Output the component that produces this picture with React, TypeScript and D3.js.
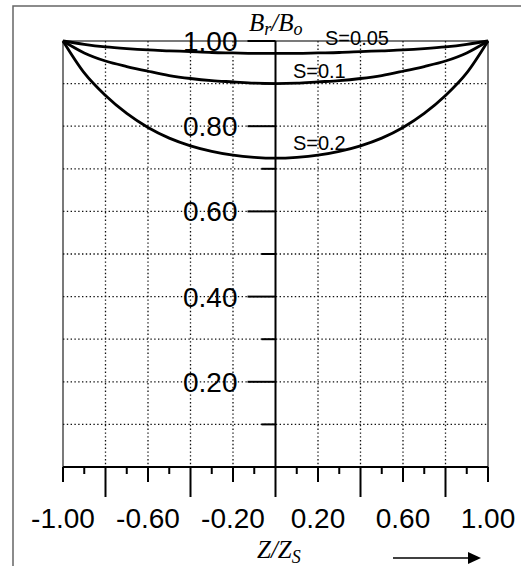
import * as d3 from 'd3';

// Z/Zs positions along the axis
const zValues = [-1, -0.9, -0.8, -0.7, -0.6, -0.5, -0.4, -0.3, -0.2, -0.1, 0, 0.1, 0.2, 0.3, 0.4, 0.5, 0.6, 0.7, 0.8, 0.9, 1];

// Br/Bo for each S
const s005 = [1.0, 0.992, 0.986, 0.982, 0.979, 0.977, 0.975, 0.973, 0.972, 0.971, 0.971, 0.971, 0.972, 0.973, 0.975, 0.977, 0.979, 0.982, 0.986, 0.992, 1.0];
const s01 = [1.0, 0.972, 0.953, 0.94, 0.929, 0.919, 0.912, 0.907, 0.904, 0.901, 0.9, 0.901, 0.904, 0.907, 0.912, 0.919, 0.929, 0.94, 0.953, 0.972, 1.0];
const s02 = [1.0, 0.925, 0.872, 0.83, 0.797, 0.772, 0.754, 0.741, 0.732, 0.727, 0.725, 0.727, 0.732, 0.741, 0.754, 0.772, 0.797, 0.83, 0.872, 0.925, 1.0];

const seriesNames = ['S=0.05', 'S=0.1', 'S=0.2'];
const xTickLabels = ['-1.00', '-0.60', '-0.20', '0.20', '0.60', '1.00'];
const yTickLabels = ['0.20', '0.40', '0.60', '0.80', '1.00'];

const W = 521;
const H = 566;

export default function App() {
  const x = d3.scaleLinear().domain([-1, 1]).range([63, 488]);
  const y = d3.scaleLinear().domain([0, 1]).range([467, 41]);

  const tenths = d3.range(-10, 11).map((i) => i / 10);
  const yTenths = d3.range(1, 11).map((i) => i / 10);

  const line = d3.line<number>()
    .x((_, i) => x(zValues[i]))
    .y((d) => y(d))
    .curve(d3.curveMonotoneX);

  const series = [s005, s01, s02];
  // label anchor: [z, value] of the left edge / baseline
  const labelPos = [[0.233, 0.991], [0.082, 0.913], [0.082, 0.744]];

  const tickLen = (i: number) => {
    const k = Math.round(i * 10);
    if (k % 2 !== 0) return 7;
    if ((k + 10) % 4 === 0) return 15;
    return 30;
  };

  return (
    <svg width={W} height={H} style={{ position: 'absolute', left: 0, top: 0, background: '#fff' }}
      fontFamily="'Liberation Sans', Arial, sans-serif">
      {/* outer frame */}
      <rect x={13} y={6} width={W + 20} height={H + 20} fill="none" stroke="#666" strokeWidth={1.5} />

      {/* dotted grid */}
      <g stroke="#111" strokeWidth={1.3} strokeDasharray="1.4 2.4">
        {tenths.filter((t) => Math.abs(t) > 0.01 && Math.abs(t) < 0.99 && Math.round(t * 10) % 2 === 0).map((t) => (
          <line key={'gx' + t} x1={x(t)} x2={x(t)} y1={y(1)} y2={y(0)} />
        ))}
        {yTenths.filter((t) => t < 0.99).map((t) => (
          <line key={'gy' + t} x1={x(-1)} x2={x(1)} y1={y(t)} y2={y(t)} />
        ))}
      </g>

      {/* plot border */}
      <rect x={x(-1)} y={y(1)} width={x(1) - x(-1)} height={y(0) - y(1)} fill="none" stroke="#222" strokeWidth={1.2} />

      {/* y axis in the middle */}
      <g stroke="#000" strokeWidth={2}>
        <line x1={x(0)} x2={x(0)} y1={y(1)} y2={y(0)} />
        {yTenths.map((t) => {
          const major = Math.round(t * 10) % 2 === 0;
          return <line key={'yt' + t} x1={x(0) - (major ? 28 : 14)} x2={x(0)} y1={y(t)} y2={y(t)} />;
        })}
      </g>
      <g fontSize={28} textAnchor="end" fill="#000">
        {yTickLabels.map((l) => (
          <text key={l} x={x(0) - 38} y={y(+l) + 10}>{l}</text>
        ))}
      </g>

      {/* x axis */}
      <g stroke="#000" strokeWidth={2}>
        <line x1={x(-1)} x2={x(1)} y1={y(0)} y2={y(0)} />
        {tenths.map((t) => (
          <line key={'xt' + t} x1={x(t)} x2={x(t)} y1={y(0)} y2={y(0) + tickLen(t)} />
        ))}
      </g>
      <g fontSize={28} textAnchor="middle" fill="#000">
        {xTickLabels.map((l) => (
          <text key={l} x={x(+l)} y={528}>{l}</text>
        ))}
      </g>

      {/* curves */}
      <g fill="none" stroke="#000" strokeWidth={2.8}>
        {series.map((s, i) => (
          <path key={seriesNames[i]} d={line(s) ?? ''} />
        ))}
      </g>
      <g fontSize={20} fill="#000">
        {seriesNames.map((n, i) => (
          <text key={n} x={x(labelPos[i][0])} y={y(labelPos[i][1])}>{n}</text>
        ))}
      </g>

      {/* axis titles */}
      <text x={249} y={31} fontFamily="'Liberation Serif', 'DejaVu Serif', serif" fontStyle="italic" fontSize={25}>
        B<tspan fontSize={18} dy={4}>r</tspan><tspan dy={-4}>/B</tspan><tspan fontSize={18} dy={4}>o</tspan>
      </text>
      <text x={257} y={558} fontFamily="'Liberation Serif', 'DejaVu Serif', serif" fontStyle="italic" fontSize={25}>
        Z/Z<tspan fontSize={18} dy={5}>S</tspan>
      </text>

      {/* direction arrow */}
      <line x1={393} x2={470} y1={558} y2={558} stroke="#000" strokeWidth={1.5} />
      <path d="M468,552 L481,558 L468,564 Z" fill="#000" />
    </svg>
  );
}
